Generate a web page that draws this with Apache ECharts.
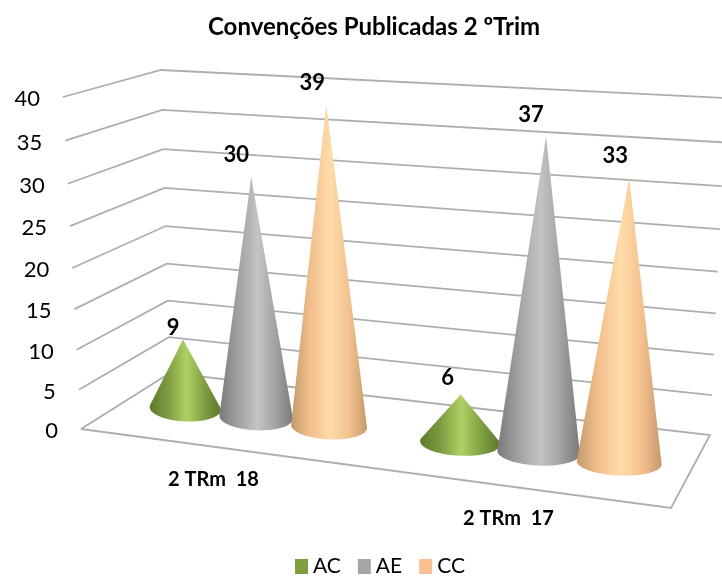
<!DOCTYPE html>
<html>
<head>
	<meta charset="utf-8">
	<title>Convenções Publicadas 2 ºTrim</title>
	<script src="https://cdn.jsdelivr.net/npm/echarts@6/dist/echarts.min.js"></script>
	<style type="text/css">
		html, body { margin: 0; padding: 0; background: #ffffff; }
		#main { width: 722px; height: 581px; }
	</style>
</head>
<body>
	<div id="main"></div>
	<script type="text/javascript">
		var categories = ['2 TRm  18', '2 TRm  17'];
		var acValues = [9, 6];
		var aeValues = [30, 37];
		var ccValues = [39, 33];
		var yTicks = [0, 5, 10, 15, 20, 25, 30, 35, 40];

		// corners of the 3D box on the page: front/back, left/right, floor/top
		var box = {
			fl0: [81, 429], bl0: [170, 373], fr0: [671, 508], br0: [710, 435],
			fl1: [63, 97], bl1: [161, 70], fr1: [687, 139], br1: [726, 98]
		};
		var slot = 0.134;  // distance between cones of one group, in floor widths
		var radius = [0.068, 0.07];

		function mix(a, b, t) {
			return [a[0] + (b[0] - a[0]) * t, a[1] + (b[1] - a[1]) * t];
		}
		// u along the floor, d into the depth, v up the walls, all 0..1
		function project(u, d, v) {
			var uu = u - 0.1 * u * (1 - u);
			var vv = v - 0.06 * v * (1 - v);
			var floor = mix(mix(box.fl0, box.fr0, uu), mix(box.bl0, box.br0, uu), d);
			var top = mix(mix(box.fl1, box.fr1, uu), mix(box.bl1, box.br1, uu), d);
			return mix(floor, top, vv);
		}
		function toUnit(params, api, cat, val) {
			var c = api.coord([cat, val]);
			var g = params.coordSys;
			return [(c[0] - g.x) / g.width, (g.y + g.height - c[1]) / g.height];
		}

		function renderFrame(params, api) {
			var p = toUnit(params, api, 0, api.value(1));
			var a = project(0, 0, p[1]);
			var b = project(0, 1, p[1]);
			var c = project(1, 1, p[1]);
			var points = [a, b, c];
			if (api.value(1) === 0) {
				points = [a, b, c, project(1, 0, 0), a];
			}
			return {
				type: 'group',
				children: [{
					type: 'polyline',
					shape: { points: points },
					style: { stroke: '#aeaeae', lineWidth: 1.8, fill: null }
				}, {
					type: 'text',
					x: a[0] - 23,
					y: a[1] + 2,
					style: { text: String(api.value(1)), font: '22px Lato', fill: '#000', align: 'right', verticalAlign: 'middle' }
				}]
			};
		}

		function renderCategory(params, api) {
			var p = toUnit(params, api, api.value(0), 0);
			var a = project(p[0], 0, 0);
			return {
				type: 'text',
				x: a[0] - 4,
				y: a[1] + 32,
				style: { text: categories[api.value(0)], font: 'bold 20px Lato', fill: '#000', align: 'center', verticalAlign: 'middle' }
			};
		}

		function coneRenderer(pos, stops, labelShift) {
			return function (params, api) {
				var cat = api.value(0);
				var p = toUnit(params, api, cat, api.value(1));
				var u = p[0] + pos * slot;
				var base = project(u, 0.5, 0);
				var tip = project(u, 0.5, p[1]);
				var rx = radius[0] + (radius[1] - radius[0]) * u;
				rx = (project(u + rx, 0.5, 0)[0] - project(u - rx, 0.5, 0)[0]) / 2;
				var ry = 13;
				var tilt = 0.04;
				// tangents from the tip to the base ellipse
				var tx = (tip[0] - base[0]) / rx;
				var ty = (tip[1] - base[1] - (tip[0] - base[0]) * tilt) / ry;
				var ang = Math.atan2(ty, tx);
				var spread = Math.acos(1 / Math.sqrt(tx * tx + ty * ty));
				var from = ang + spread;
				var to = ang - spread + Math.PI * 2;
				var points = [tip];
				for (var i = 0; i <= 48; i++) {
					var t = from + (to - from) * i / 48;
					var ex = Math.cos(t) * rx;
					points.push([base[0] + ex, base[1] + Math.sin(t) * ry + ex * tilt]);
				}
				return {
					type: 'group',
					children: [{
						type: 'polygon',
						shape: { points: points },
						style: {
							fill: { type: 'linear', x: 0, y: 0, x2: 1, y2: 0, colorStops: stops }
						}
					}, {
						type: 'text',
						x: tip[0] + labelShift[cat][0],
						y: tip[1] + labelShift[cat][1],
						style: { text: String(api.value(1)), font: 'bold 22px Lato', fill: '#000', align: 'center', verticalAlign: 'middle' }
					}]
				};
			};
		}

		function gradient(edge, mid, light) {
			return [
				{ offset: 0, color: edge }, { offset: 0.25, color: mid },
				{ offset: 0.52, color: light }, { offset: 0.78, color: mid },
				{ offset: 1, color: edge }
			];
		}

		function toRows(values) {
			return values.map(function (v, i) { return [i, v]; });
		}

		var myChart = echarts.init(document.getElementById('main'));
		var option = {
			animation: false,
			title: {
				text: 'Convenções Publicadas 2 ºTrim',
				left: 203,
				top: 10,
				textStyle: { fontFamily: 'Lato', fontWeight: 'bold', fontSize: 24, color: '#000' }
			},
			legend: {
				left: 290,
				top: 551,
				itemWidth: 13,
				itemHeight: 15,
				itemGap: 17,
				icon: 'rect',
				data: ['AC', 'AE', 'CC'],
				textStyle: { fontFamily: 'Lato', fontSize: 21, color: '#000' }
			},
			grid: { left: 0, right: 0, top: 0, bottom: 0 },
			xAxis: { type: 'category', data: categories, show: false },
			yAxis: { type: 'value', min: 0, max: 40, interval: 5, show: false },
			series: [{
				type: 'custom',
				name: 'frame',
				silent: true,
				renderItem: renderFrame,
				data: yTicks.map(function (t) { return [0, t]; }),
				encode: { x: 0, y: 1 }
			}, {
				type: 'custom',
				name: 'categories',
				silent: true,
				renderItem: renderCategory,
				data: toRows([0, 0]),
				encode: { x: 0, y: 1 }
			}, {
				type: 'custom',
				name: 'AC',
				itemStyle: { color: '#7f9f3f' },
				renderItem: coneRenderer(-1, gradient('#5c7a2c', '#7c9c40', '#b0d066'), [[-10, -12], [-13, -17]]),
				data: toRows(acValues),
				encode: { x: 0, y: 1 }
			}, {
				type: 'custom',
				name: 'AE',
				itemStyle: { color: '#a5a5a5' },
				renderItem: coneRenderer(0, gradient('#7a7a7a', '#a0a0a0', '#c4c4c4'), [[-15, -22], [-15, -21]]),
				data: toRows(aeValues),
				encode: { x: 0, y: 1 }
			}, {
				type: 'custom',
				name: 'CC',
				itemStyle: { color: '#fac090' },
				renderItem: coneRenderer(1, gradient('#c49a6c', '#f2bf8c', '#ffdcaa'), [[-14, -22], [-14, -22]]),
				data: toRows(ccValues),
				encode: { x: 0, y: 1 }
			}]
		};
		myChart.setOption(option);
	</script>
</body>
</html>
